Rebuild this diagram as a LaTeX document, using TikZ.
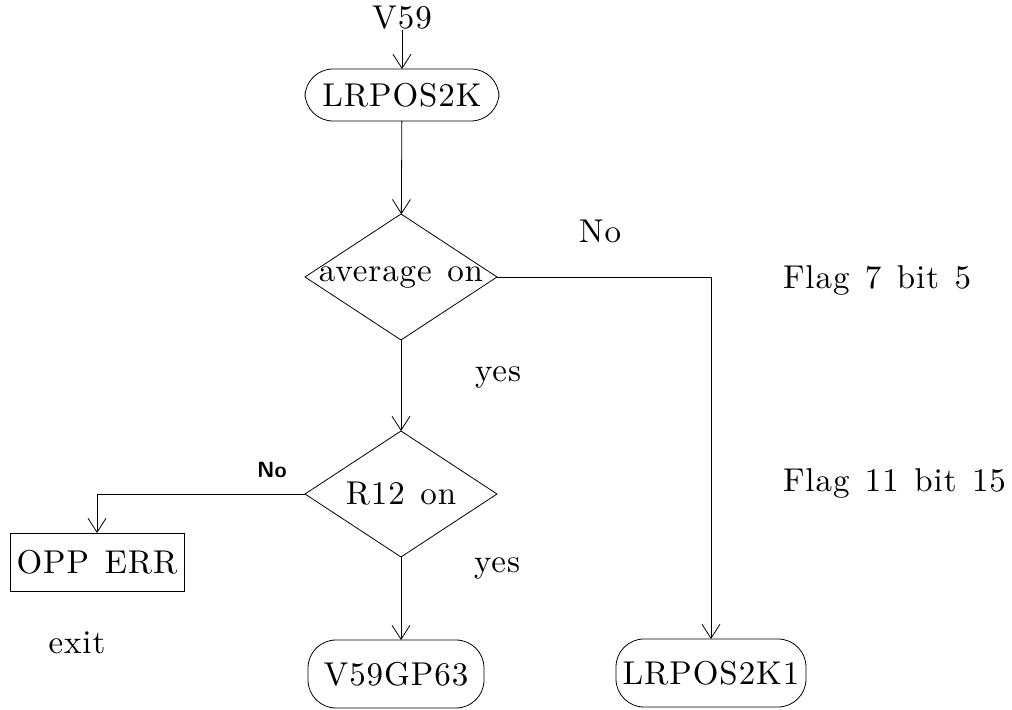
\documentclass[tikz,border=0pt]{standalone}
\usepackage{fontspec}
\setmainfont{lmroman10-regular.otf}[LetterSpace=2.8,WordSpace=1.3]
\usepackage{tikz}
\usetikzlibrary{arrows.meta}
\usetikzlibrary{shapes.geometric}

\begin{document}
\begin{tikzpicture}[x=0.5pt,y=-0.5pt,inner sep=0pt,outer sep=0pt,thin,
>={Straight Barb[length=7pt,width=9pt]},
every node/.style={font=\fontsize{16.5}{19}\selectfont},
termbox/.style={draw,rectangle,rounded corners=14pt,minimum width=97pt,minimum height=26pt},
errbox/.style={draw,rectangle,minimum width=87pt,minimum height=29pt},
decision/.style={draw,diamond,minimum width=96pt,minimum height=63pt},
smallno/.style={font=\sffamily\bfseries\fontsize{11}{13}\selectfont}]
\useasboundingbox (0,0) rectangle (1012,710);
\draw (402,18) node (entry) {V59};
\draw (402,95) node[termbox] (start) {LRPOS2K};
\draw (401,277) node[decision,label={[name=avgtext]center:average on}] (avg) {};
\draw (401,494) node[decision,label={[name=rtext]center:R12 on}] (rtwelve) {};
\draw (97,562) node[errbox] (err) {OPP ERR};
\draw (77,643) node (exit) {exit};
\draw (396,674) node[termbox,minimum width=88pt,minimum height=34pt] (gp) {V59GP63};
\draw (711,673) node[termbox,minimum width=95pt,minimum height=34pt] (final) {LRPOS2K1};
\draw (600,231) node (nofirst) {No};
\draw (498,377) node (yesfirst) {yes};
\draw (497,568) node (yessecond) {yes};
\draw (272,470) node[smallno] (nosecond) {No};
\draw (783,280) node[anchor=west] (flagseven) {Flag 7 bit 5};
\draw (783,483) node[anchor=west] (flageleven) {Flag 11 bit 15};
\draw[->] (entry) -- (start);
\draw[->] (start) -- (avg);
\draw[->] (avg.east) -| (final.north);
\draw[->] (avg.south) -- (rtwelve.north);
\draw[->] (rtwelve.west) -| (err.north);
\draw[->] (rtwelve.south) -- (rtwelve.south |- gp.north);

\end{tikzpicture}
\end{document}
